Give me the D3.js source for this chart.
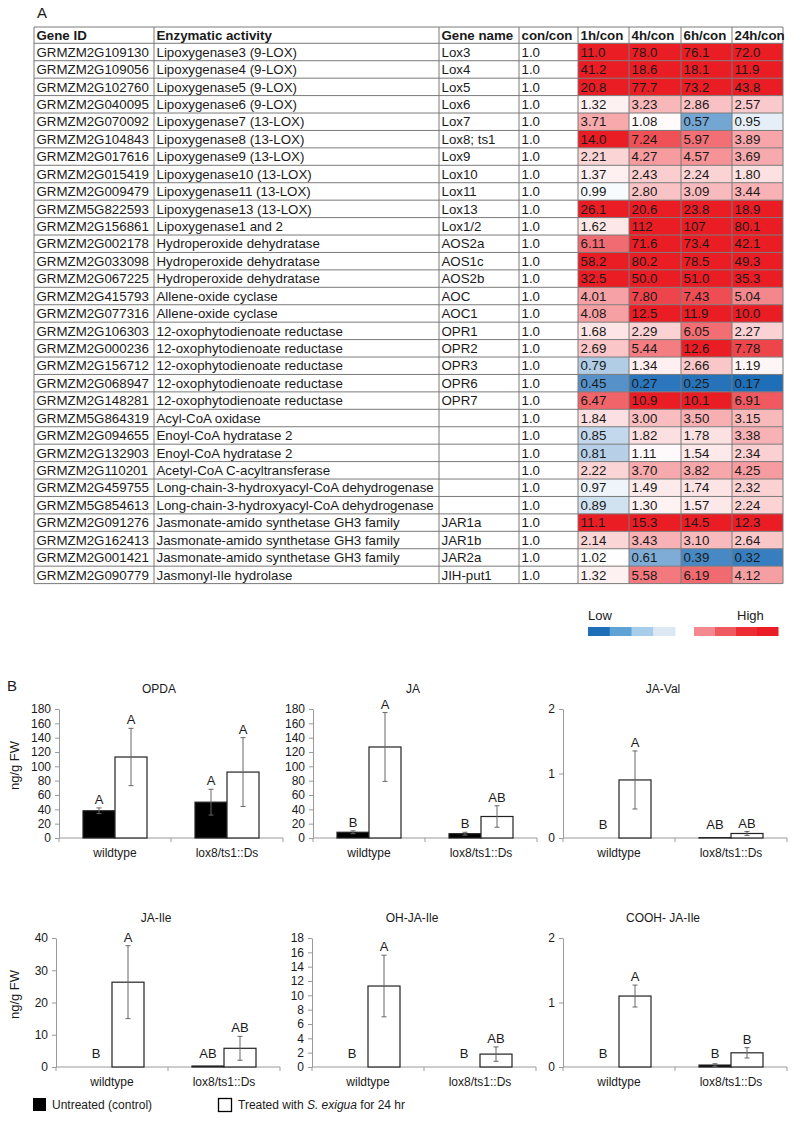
<!DOCTYPE html>
<html><head><meta charset="utf-8">
<script src="https://cdn.jsdelivr.net/npm/d3@7"></script>
<style>
html,body{margin:0;padding:0;background:#fff;}
svg{display:block;font-family:"Liberation Sans",Arial,sans-serif;}
</style></head>
<body>
<svg id="chart" width="800" height="1148"></svg>
<script>
// ---------- Panel A data ----------
const headers = ["Gene ID","Enzymatic activity","Gene name","con/con","1h/con","4h/con","6h/con","24h/con"];
const geneIds = ["GRMZM2G109130","GRMZM2G109056","GRMZM2G102760","GRMZM2G040095","GRMZM2G070092","GRMZM2G104843","GRMZM2G017616","GRMZM2G015419","GRMZM2G009479","GRMZM5G822593","GRMZM2G156861","GRMZM2G002178","GRMZM2G033098","GRMZM2G067225","GRMZM2G415793","GRMZM2G077316","GRMZM2G106303","GRMZM2G000236","GRMZM2G156712","GRMZM2G068947","GRMZM2G148281","GRMZM5G864319","GRMZM2G094655","GRMZM2G132903","GRMZM2G110201","GRMZM2G459755","GRMZM5G854613","GRMZM2G091276","GRMZM2G162413","GRMZM2G001421","GRMZM2G090779"];
const activities = ["Lipoxygenase3 (9-LOX)","Lipoxygenase4 (9-LOX)","Lipoxygenase5 (9-LOX)","Lipoxygenase6 (9-LOX)","Lipoxygenase7 (13-LOX)","Lipoxygenase8 (13-LOX)","Lipoxygenase9 (13-LOX)","Lipoxygenase10 (13-LOX)","Lipoxygenase11 (13-LOX)","Lipoxygenase13 (13-LOX)","Lipoxygenase1 and 2","Hydroperoxide dehydratase","Hydroperoxide dehydratase","Hydroperoxide dehydratase","Allene-oxide cyclase","Allene-oxide cyclase","12-oxophytodienoate reductase","12-oxophytodienoate reductase","12-oxophytodienoate reductase","12-oxophytodienoate reductase","12-oxophytodienoate reductase","Acyl-CoA oxidase","Enoyl-CoA hydratase 2","Enoyl-CoA hydratase 2","Acetyl-CoA C-acyltransferase","Long-chain-3-hydroxyacyl-CoA dehydrogenase","Long-chain-3-hydroxyacyl-CoA dehydrogenase","Jasmonate-amido synthetase GH3 family","Jasmonate-amido synthetase GH3 family","Jasmonate-amido synthetase GH3 family","Jasmonyl-Ile hydrolase"];
const geneNames = ["Lox3","Lox4","Lox5","Lox6","Lox7","Lox8; ts1","Lox9","Lox10","Lox11","Lox13","Lox1/2","AOS2a","AOS1c","AOS2b","AOC","AOC1","OPR1","OPR2","OPR3","OPR6","OPR7","","","","","","","JAR1a","JAR1b","JAR2a","JIH-put1"];
const conCon = Array(31).fill(1.0);
const h1  = [11.0,41.2,20.8,1.32,3.71,14.0,2.21,1.37,0.99,26.1,1.62,6.11,58.2,32.5,4.01,4.08,1.68,2.69,0.79,0.45,6.47,1.84,0.85,0.81,2.22,0.97,0.89,11.1,2.14,1.02,1.32];
const h4  = [78.0,18.6,77.7,3.23,1.08,7.24,4.27,2.43,2.80,20.6,112,71.6,80.2,50.0,7.80,12.5,2.29,5.44,1.34,0.27,10.9,3.00,1.82,1.11,3.70,1.49,1.30,15.3,3.43,0.61,5.58];
const h6  = [76.1,18.1,73.2,2.86,0.57,5.97,4.57,2.24,3.09,23.8,107,73.4,78.5,51.0,7.43,11.9,6.05,12.6,2.66,0.25,10.1,3.50,1.78,1.54,3.82,1.74,1.57,14.5,3.10,0.39,6.19];
const h24 = [72.0,11.9,43.8,2.57,0.95,3.89,3.69,1.80,3.44,18.9,80.1,42.1,49.3,35.3,5.04,10.0,2.27,7.78,1.19,0.17,6.91,3.15,3.38,2.34,4.25,2.32,2.24,12.3,2.64,0.32,4.12];
const legendLow = ["#1f6fb8","#5fa3d6","#a8cde8","#dce9f5"];
const legendHigh = ["#f4888f","#ee5a5f","#ed2d33","#ea1d25"];

// ---------- Panel B data ----------
const genotypes = ["wildtype","lox8/ts1::Ds"];
const analytes = ["OPDA","JA","JA-Val","JA-Ile","OH-JA-Ile","COOH- JA-Ile"];
const untreatedMean = [[38,50],[8,6],[0,0.005],[0,0.3],[0,0],[0,0.03]];
const untreatedErr  = [[4,18],[2,2],[0,0],[0,0],[0,0],[0,0.02]];
const treatedMean   = [[113,92],[127,30],[0.9,0.07],[26.3,5.8],[11.3,1.8],[1.1,0.22]];
const treatedErr    = [[40,48],[48,15],[0.45,0.03],[11.3,3.7],[4.3,1.0],[0.17,0.08]];
const untreatedLetters = [["A","A"],["B","B"],["B","AB"],["B","AB"],["B","B"],["B","B"]];
const treatedLetters   = [["A","A"],["A","AB"],["A","AB"],["A","AB"],["A","AB"],["A","B"]];
const yMax  = [180,180,2,40,18,2];
const yStep = [20,20,1,10,2,1];

// ---------- drawing ----------
const svg = d3.select("#chart");
const TXT = "#1a1a1a";

svg.append("text").attr("x",37).attr("y",18).attr("font-size",15).attr("fill",TXT).text("A");

const colX = [34,154,439,519,578,629,681,732,783];
const headTop = 27, rowTop = 43.3, rowBottom = 583.6;
const rowScale = d3.scaleBand().domain(d3.range(geneIds.length)).range([rowTop,rowBottom]);
const rh = rowScale.bandwidth();

const redT = v => Math.pow(Math.min(1,(v-1)/8.5),0.85);
const blueT = v => Math.pow(Math.min(1,(1-v)/0.78),0.8);
const toRed = d3.interpolateRgb("#ffffff","#ea1d25");
const toBlue = d3.interpolateRgb("#ffffff","#1f6fb8");
const heatColor = v => v>=1 ? toRed(redT(v)) : toBlue(blueT(v));
const fmt = v => v>=100 ? v.toFixed(0) : (v>=10 ? v.toFixed(1) : v.toFixed(2));

const tbl = svg.append("g");
const timeCols = [h1,h4,h6,h24];
timeCols.forEach((arr,ci)=>{
  const cx = colX[4+ci], cw = colX[5+ci]-colX[4+ci];
  tbl.selectAll(null).data(arr).enter().append("rect")
    .attr("x",cx).attr("y",(d,i)=>rowScale(i)).attr("width",cw).attr("height",rh)
    .attr("fill",d=>heatColor(d));
});
const hLines = [headTop].concat(d3.range(geneIds.length+1).map(i=> i<geneIds.length ? rowScale(i) : rowBottom));
tbl.selectAll(null).data(hLines).enter().append("line")
  .attr("x1",colX[0]).attr("x2",colX[8]).attr("y1",d=>d).attr("y2",d=>d)
  .attr("stroke","#7a7a7a").attr("stroke-width",1);
tbl.selectAll(null).data(colX).enter().append("line")
  .attr("x1",d=>d).attr("x2",d=>d).attr("y1",headTop).attr("y2",rowBottom)
  .attr("stroke","#7a7a7a").attr("stroke-width",1);
tbl.selectAll(null).data(headers).enter().append("text")
  .attr("x",(d,i)=>colX[i]+2.5).attr("y",headTop+(rowTop-headTop)/2+4.7)
  .attr("font-size",13.3).attr("font-weight","bold").attr("fill",TXT).text(d=>d);
const cols = [geneIds, activities, geneNames, conCon.map(v=>v.toFixed(1))].concat(timeCols.map(a=>a.map(fmt)));
cols.forEach((arr,ci)=>{
  tbl.selectAll(null).data(arr).enter().append("text")
    .attr("x",colX[ci]+2.5).attr("y",(d,i)=>rowScale(i)+rh/2+4.7)
    .attr("font-size",13.3).attr("fill",TXT).text(d=>d);
});

// heat legend
svg.append("text").attr("x",588).attr("y",620).attr("font-size",13).attr("fill",TXT).text("Low");
svg.append("text").attr("x",737).attr("y",620).attr("font-size",13).attr("fill",TXT).text("High");
const lowX = d3.scaleBand().domain(d3.range(4)).range([588,675]);
const highX = d3.scaleBand().domain(d3.range(4)).range([694,778]);
svg.selectAll(null).data(legendLow).enter().append("rect")
  .attr("x",(d,i)=>lowX(i)).attr("y",627).attr("width",lowX.bandwidth()+0.5).attr("height",9).attr("fill",d=>d);
svg.selectAll(null).data(legendHigh).enter().append("rect")
  .attr("x",(d,i)=>highX(i)).attr("y",627).attr("width",highX.bandwidth()+0.5).attr("height",9).attr("fill",d=>d);

svg.append("text").attr("x",7).attr("y",691).attr("font-size",15).attr("fill",TXT).text("B");

const lefts = [[59,313,563],[56,312,563]];
const tops = [709,938], bottoms = [838,1067];
const chartW = 224, barW = 32;

analytes.forEach((name,k)=>{
  const row = Math.floor(k/3), col = k%3;
  const left = lefts[row][col], top = tops[row], bottom = bottoms[row];
  const g = svg.append("g");
  const y = d3.scaleLinear().domain([0,yMax[k]]).range([bottom,top]);
  const x = d3.scaleBand().domain(genotypes).range([left,left+chartW]);

  const ya = g.append("g").attr("transform",`translate(${left},0)`)
    .call(d3.axisLeft(y).tickValues(d3.range(0,yMax[k]+yStep[k]/2,yStep[k]))
      .tickFormat(d3.format("~g")).tickSize(4).tickSizeOuter(0).tickPadding(4));
  ya.select(".domain").attr("stroke","#9a9a9a");
  ya.selectAll(".tick line").attr("stroke","#9a9a9a");
  ya.selectAll("text").attr("font-size",12).attr("fill",TXT).attr("font-family","Liberation Sans, Arial, sans-serif");

  const xa = g.append("g").attr("transform",`translate(0,${bottom})`)
    .call(d3.axisBottom(x).tickSize(0).tickPadding(10.5));
  xa.select(".domain").remove();
  xa.selectAll("text").attr("font-size",12).attr("fill",TXT).attr("font-family","Liberation Sans, Arial, sans-serif");
  g.append("line").attr("x1",left).attr("x2",left+chartW).attr("y1",bottom).attr("y2",bottom).attr("stroke","#9a9a9a");
  const bounds = [left, left+x.bandwidth(), left+chartW];
  g.selectAll(null).data(bounds).enter().append("line")
    .attr("x1",d=>d).attr("x2",d=>d).attr("y1",bottom).attr("y2",bottom+4).attr("stroke","#9a9a9a");

  g.append("text").attr("x",left+chartW/2-12).attr("y",top-16).attr("text-anchor","middle")
    .attr("font-size",12).attr("fill",TXT).text(name);

  if(col===0){
    g.append("text").attr("transform",`translate(18.5,${(top+bottom)/2-8}) rotate(-90)`)
      .attr("text-anchor","middle").attr("font-size",13).attr("fill",TXT).text("ng/g FW");
  }

  const series = [
    {mean:untreatedMean[k], err:untreatedErr[k], letters:untreatedLetters[k], fill:"#000", off:-barW},
    {mean:treatedMean[k], err:treatedErr[k], letters:treatedLetters[k], fill:"#fff", off:0}
  ];
  series.forEach(s=>{
    genotypes.forEach((gt,i)=>{
      const cx = x(gt)+x.bandwidth()/2 + s.off;
      const m = s.mean[i], e = s.err[i];
      if(m>0){
        g.append("rect").attr("x",cx).attr("y",y(m)).attr("width",barW).attr("height",y(0)-y(m))
          .attr("fill",s.fill).attr("stroke","#222").attr("stroke-width",1.2);
      }
      const mx = cx+barW/2;
      if(e>0){
        g.append("line").attr("x1",mx).attr("x2",mx).attr("y1",y(m+e)).attr("y2",y(Math.max(0,m-e))).attr("stroke","#666").attr("stroke-width",1);
        g.append("line").attr("x1",mx-2.5).attr("x2",mx+2.5).attr("y1",y(m+e)).attr("y2",y(m+e)).attr("stroke","#666").attr("stroke-width",1);
        if(m-e>0) g.append("line").attr("x1",mx-2.5).attr("x2",mx+2.5).attr("y1",y(m-e)).attr("y2",y(m-e)).attr("stroke","#666").attr("stroke-width",1);
      }
      const ly = Math.min(y(m+e)-4, y(0)-9);
      g.append("text").attr("x",mx).attr("y",ly).attr("text-anchor","middle")
        .attr("font-size",13).attr("fill",TXT).text(s.letters[i]);
    });
  });
});

svg.append("rect").attr("x",33).attr("y",1098).attr("width",13).attr("height",13).attr("fill","#000");
svg.append("text").attr("x",52).attr("y",1109).attr("font-size",12).attr("fill",TXT).text("Untreated (control)");
svg.append("rect").attr("x",218.5).attr("y",1098.5).attr("width",13).attr("height",13).attr("fill","#fff").attr("stroke","#000").attr("stroke-width",1.3);
const lt = svg.append("text").attr("x",238).attr("y",1109).attr("font-size",12).attr("fill",TXT);
lt.append("tspan").text("Treated with ");
lt.append("tspan").attr("font-style","italic").text("S. exigua");
lt.append("tspan").text(" for 24 hr");
</script>
</body></html>
